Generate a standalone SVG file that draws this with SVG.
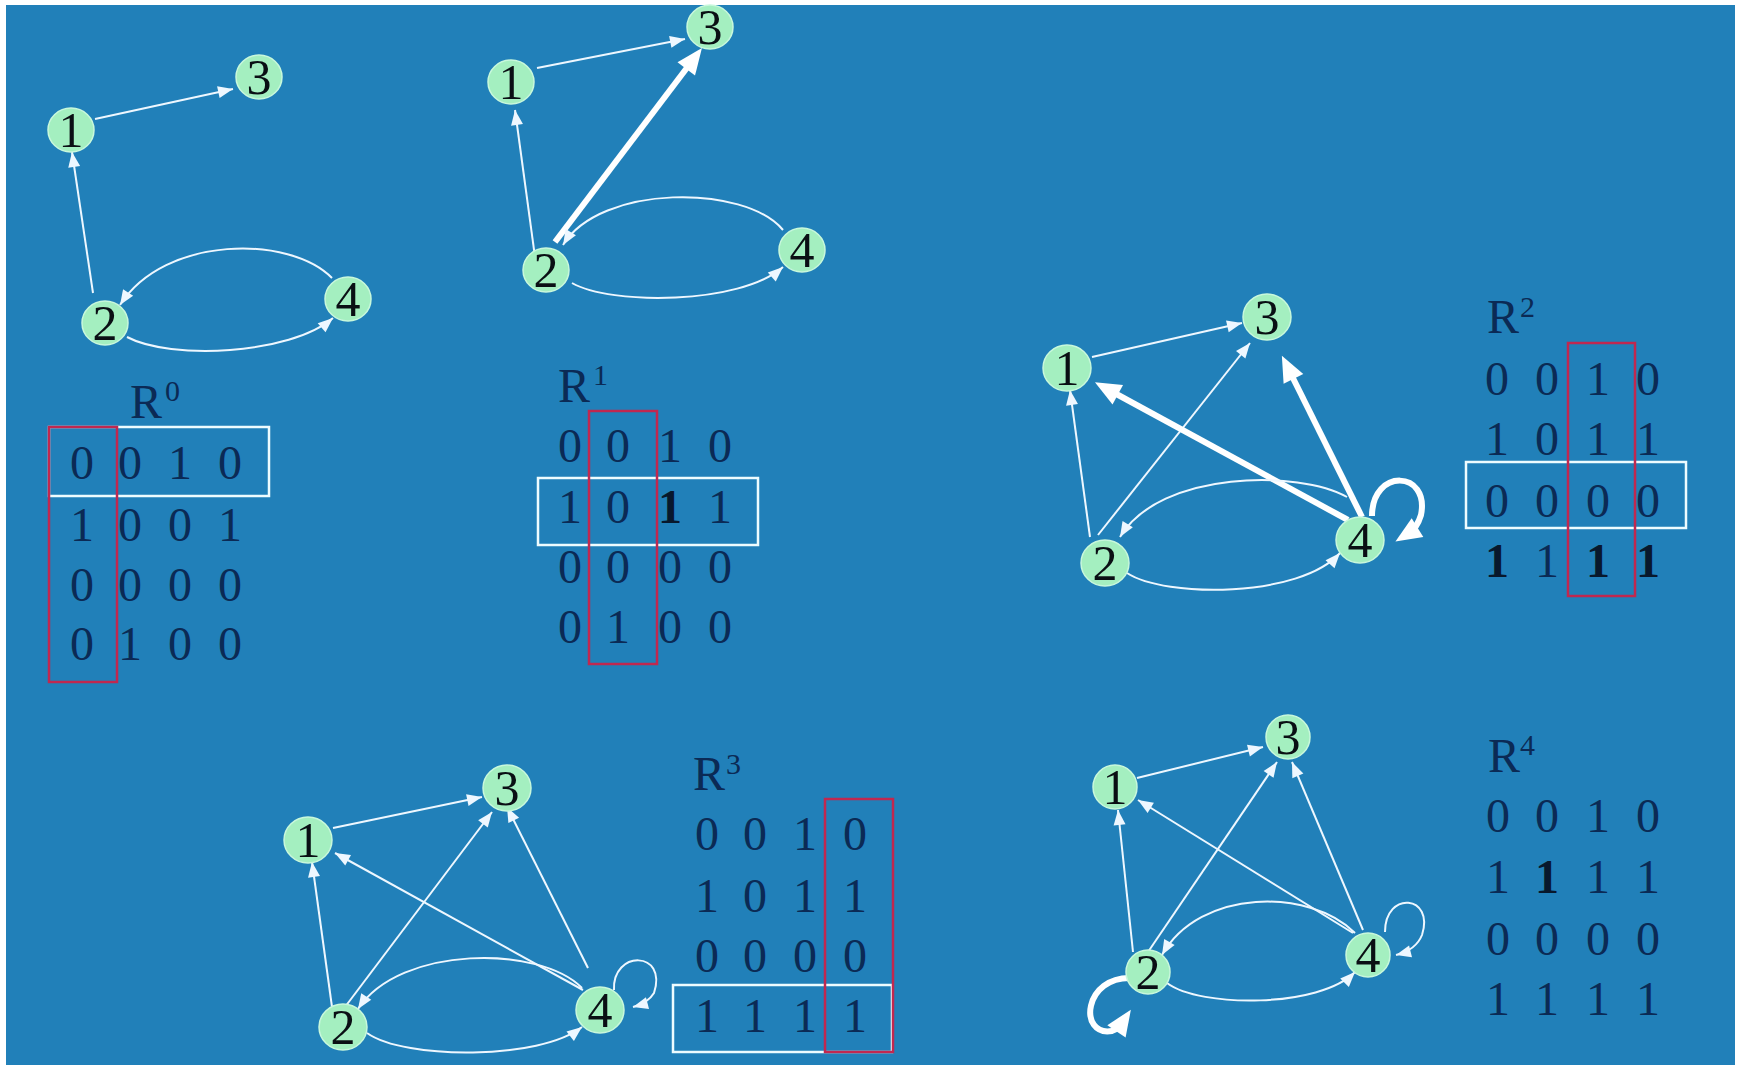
<svg xmlns="http://www.w3.org/2000/svg" width="1738" height="1065" viewBox="0 0 1738 1065">
<style>
.bg{fill:#2180b9}
.n{fill:#a4efc0;stroke:#c8f8dc;stroke-width:1.5}
.nt{font-family:"Liberation Serif","Times New Roman",serif;font-size:50px;fill:#0a0f14;text-anchor:middle}
.e{fill:none;stroke:#eef7ff;stroke-width:2;marker-end:url(#a)}
.t{fill:none;stroke:#ffffff;stroke-width:6;marker-end:url(#b)}
.m{font-family:"Liberation Serif","Times New Roman",serif;font-size:48px;fill:#0b2a55;text-anchor:middle}
.mb{font-weight:bold;fill:#08182c}
.lab{font-family:"Liberation Serif","Times New Roman",serif;font-size:48px;fill:#0b2a55}
.sup{font-family:"Liberation Serif","Times New Roman",serif;font-size:30px;fill:#0b2a55}
.wb{fill:none;stroke:#eefcff;stroke-width:2.5}
.rb{fill:none;stroke:#c02850;stroke-width:2.5}
</style>
<defs>
<marker id="a" markerUnits="userSpaceOnUse" markerWidth="16" markerHeight="14" refX="15" refY="6" orient="auto" overflow="visible"><path d="M0,0 L15,6 L0,12 z" fill="#eef7ff"/></marker>
<marker id="b" markerUnits="userSpaceOnUse" markerWidth="28" markerHeight="24" refX="10" refY="11" orient="auto" overflow="visible"><path d="M0,0 L26,11 L0,22 z" fill="#ffffff"/></marker>
</defs>
<rect x="0" y="0" width="1738" height="1065" fill="#ffffff"/>
<rect class="bg" x="6" y="5" width="1729" height="1060"/>

<g id="connectors">
<!-- graph 0 -->
<path class="e" d="M95,119 L233,89"/>
<path class="e" d="M93,293 L72,152"/>
<path class="e" d="M332,278 C290,235 165,235 120,305"/>
<path class="e" d="M127,337 C170,360 290,355 333,318"/>
<!-- graph 1 -->
<path class="e" d="M537,68 L685,39"/>
<path class="e" d="M535,257 L515,110"/>
<path class="t" d="M555,242 L692.3,60.8"/>
<path class="e" d="M783,230 C745,184 600,184 563,245"/>
<path class="e" d="M572,283 C610,305 740,305 783,267"/>
<!-- graph 2 -->
<path class="e" d="M1092,357 L1242,323"/>
<path class="e" d="M1090,537 L1070,390"/>
<path class="e" d="M1098,535 L1250,343"/>
<path class="t" d="M1348,520 L1109,390"/>
<path class="t" d="M1362,517 L1289,370"/>
<path class="t" d="M1372,516 C1372,468 1430,470 1421,515 Q1417,528 1409,533"/>
<path class="e" d="M1347,497 C1300,470 1160,470 1120,537"/>
<path class="e" d="M1127,573 C1165,598 1300,598 1340,553"/>
<!-- graph 3 -->
<path class="e" d="M333,828 L482,797"/>
<path class="e" d="M332,1007 L312,862"/>
<path class="e" d="M345,1007 L492,812"/>
<path class="e" d="M583,990 L335,853"/>
<path class="e" d="M588,968 L507,807"/>
<path class="e" d="M614,990 C612,950 668,950 654,993 Q648,1003 633,1007"/>
<path class="e" d="M582,988 C540,945 400,945 358,1009"/>
<path class="e" d="M367,1033 C405,1060 540,1060 582,1027"/>
<!-- graph 4 -->
<path class="e" d="M1137,778 L1263,747"/>
<path class="e" d="M1133,952 L1118,810"/>
<path class="e" d="M1148,952 L1277,762"/>
<path class="e" d="M1353,933 L1138,800"/>
<path class="e" d="M1363,930 L1292,762"/>
<path class="e" d="M1385,932 C1385,890 1435,895 1422,935 Q1416,950 1396,955"/>
<path class="t" d="M1133,978 C1083,975 1078,1037 1112,1031 Q1118,1029 1122,1023"/>
<path class="e" d="M1355,933 C1310,888 1200,888 1162,955"/>
<path class="e" d="M1167,983 C1200,1008 1320,1008 1355,972"/>
</g>

<g id="graph0">
<g id="g0n1"><ellipse class="n" cx="71" cy="130" rx="23" ry="22"/><text class="nt" x="71" y="147">1</text></g>
<g id="g0n3"><ellipse class="n" cx="259" cy="77" rx="23" ry="22"/><text class="nt" x="259" y="94">3</text></g>
<g id="g0n2"><ellipse class="n" cx="105" cy="323" rx="23" ry="22"/><text class="nt" x="105" y="340">2</text></g>
<g id="g0n4"><ellipse class="n" cx="348" cy="299" rx="23" ry="22"/><text class="nt" x="348" y="316">4</text></g>
</g>
<g id="graph1">
<g id="g1n1"><ellipse class="n" cx="511" cy="82" rx="23" ry="22"/><text class="nt" x="511" y="99">1</text></g>
<g id="g1n3"><ellipse class="n" cx="710" cy="27" rx="23" ry="22"/><text class="nt" x="710" y="44">3</text></g>
<g id="g1n2"><ellipse class="n" cx="546" cy="270" rx="23" ry="22"/><text class="nt" x="546" y="287">2</text></g>
<g id="g1n4"><ellipse class="n" cx="802" cy="250" rx="23" ry="22"/><text class="nt" x="802" y="267">4</text></g>
</g>
<g id="graph2">
<g id="g2n1"><ellipse class="n" cx="1067" cy="368" rx="24" ry="23"/><text class="nt" x="1067" y="385">1</text></g>
<g id="g2n3"><ellipse class="n" cx="1267" cy="317" rx="24" ry="23"/><text class="nt" x="1267" y="334">3</text></g>
<g id="g2n2"><ellipse class="n" cx="1105" cy="563" rx="24" ry="23"/><text class="nt" x="1105" y="580">2</text></g>
<g id="g2n4"><ellipse class="n" cx="1360" cy="540" rx="24" ry="23"/><text class="nt" x="1360" y="557">4</text></g>
</g>
<g id="graph3">
<g id="g3n1"><ellipse class="n" cx="308" cy="840" rx="24" ry="23"/><text class="nt" x="308" y="857">1</text></g>
<g id="g3n3"><ellipse class="n" cx="507" cy="788" rx="24" ry="23"/><text class="nt" x="507" y="805">3</text></g>
<g id="g3n2"><ellipse class="n" cx="343" cy="1027" rx="24" ry="23"/><text class="nt" x="343" y="1044">2</text></g>
<g id="g3n4"><ellipse class="n" cx="600" cy="1010" rx="24" ry="23"/><text class="nt" x="600" y="1027">4</text></g>
</g>
<g id="graph4">
<g id="g4n1"><ellipse class="n" cx="1115" cy="787" rx="22" ry="22"/><text class="nt" x="1115" y="804">1</text></g>
<g id="g4n3"><ellipse class="n" cx="1288" cy="737" rx="22" ry="22"/><text class="nt" x="1288" y="754">3</text></g>
<g id="g4n2"><ellipse class="n" cx="1148" cy="972" rx="22" ry="22"/><text class="nt" x="1148" y="989">2</text></g>
<g id="g4n4"><ellipse class="n" cx="1368" cy="955" rx="22" ry="22"/><text class="nt" x="1368" y="972">4</text></g>
</g>

<g id="R0">
<text class="lab" x="130" y="418">R</text><text class="sup" x="165" y="401">0</text>
<text class="m" y="479"><tspan x="82">0</tspan><tspan x="130">0</tspan><tspan x="180">1</tspan><tspan x="230">0</tspan></text>
<text class="m" y="541"><tspan x="82">1</tspan><tspan x="130">0</tspan><tspan x="180">0</tspan><tspan x="230">1</tspan></text>
<text class="m" y="601"><tspan x="82">0</tspan><tspan x="130">0</tspan><tspan x="180">0</tspan><tspan x="230">0</tspan></text>
<text class="m" y="660"><tspan x="82">0</tspan><tspan x="130">1</tspan><tspan x="180">0</tspan><tspan x="230">0</tspan></text>
<rect class="wb" x="49" y="427" width="220" height="69"/>
<rect class="rb" x="49" y="427" width="68" height="255"/>
</g>
<g id="R1">
<text class="lab" x="558" y="402">R</text><text class="sup" x="593" y="385">1</text>
<text class="m" y="462"><tspan x="570">0</tspan><tspan x="618">0</tspan><tspan x="670">1</tspan><tspan x="720">0</tspan></text>
<text class="m" y="523"><tspan x="570">1</tspan><tspan x="618">0</tspan><tspan x="670" class="mb">1</tspan><tspan x="720">1</tspan></text>
<text class="m" y="583"><tspan x="570">0</tspan><tspan x="618">0</tspan><tspan x="670">0</tspan><tspan x="720">0</tspan></text>
<text class="m" y="643"><tspan x="570">0</tspan><tspan x="618">1</tspan><tspan x="670">0</tspan><tspan x="720">0</tspan></text>
<rect class="wb" x="538" y="478" width="220" height="67"/>
<rect class="rb" x="589" y="411" width="68" height="253"/>
</g>
<g id="R2">
<text class="lab" x="1487" y="333">R</text><text class="sup" x="1520" y="317">2</text>
<text class="m" y="395"><tspan x="1497">0</tspan><tspan x="1547">0</tspan><tspan x="1598">1</tspan><tspan x="1648">0</tspan></text>
<text class="m" y="455"><tspan x="1497">1</tspan><tspan x="1547">0</tspan><tspan x="1598">1</tspan><tspan x="1648">1</tspan></text>
<text class="m" y="517"><tspan x="1497">0</tspan><tspan x="1547">0</tspan><tspan x="1598">0</tspan><tspan x="1648">0</tspan></text>
<text class="m" y="577"><tspan x="1497" class="mb">1</tspan><tspan x="1547">1</tspan><tspan x="1598" class="mb">1</tspan><tspan x="1648" class="mb">1</tspan></text>
<rect class="wb" x="1466" y="462" width="220" height="66"/>
<rect class="rb" x="1568" y="343" width="67" height="253"/>
</g>
<g id="R3">
<text class="lab" x="693" y="790">R</text><text class="sup" x="726" y="774">3</text>
<text class="m" y="850"><tspan x="707">0</tspan><tspan x="755">0</tspan><tspan x="805">1</tspan><tspan x="855">0</tspan></text>
<text class="m" y="912"><tspan x="707">1</tspan><tspan x="755">0</tspan><tspan x="805">1</tspan><tspan x="855">1</tspan></text>
<text class="m" y="972"><tspan x="707">0</tspan><tspan x="755">0</tspan><tspan x="805">0</tspan><tspan x="855">0</tspan></text>
<text class="m" y="1032"><tspan x="707">1</tspan><tspan x="755">1</tspan><tspan x="805">1</tspan><tspan x="855">1</tspan></text>
<rect class="wb" x="673" y="985" width="219" height="67"/>
<rect class="rb" x="825" y="799" width="68" height="253"/>
</g>
<g id="R4">
<text class="lab" x="1488" y="772">R</text><text class="sup" x="1520" y="755">4</text>
<text class="m" y="832"><tspan x="1498">0</tspan><tspan x="1547">0</tspan><tspan x="1598">1</tspan><tspan x="1648">0</tspan></text>
<text class="m" y="893"><tspan x="1498">1</tspan><tspan x="1547" class="mb">1</tspan><tspan x="1598">1</tspan><tspan x="1648">1</tspan></text>
<text class="m" y="955"><tspan x="1498">0</tspan><tspan x="1547">0</tspan><tspan x="1598">0</tspan><tspan x="1648">0</tspan></text>
<text class="m" y="1015"><tspan x="1498">1</tspan><tspan x="1547">1</tspan><tspan x="1598">1</tspan><tspan x="1648">1</tspan></text>
</g>
</svg>
